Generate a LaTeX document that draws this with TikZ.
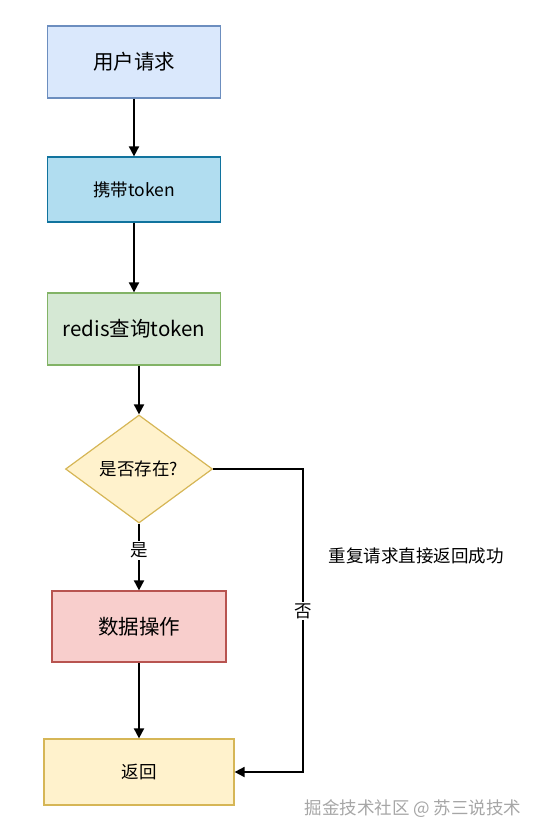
\documentclass[tikz,border=0pt]{standalone}
\usepackage{fontspec}
\setmainfont{Noto Sans CJK SC}
\usetikzlibrary{arrows.meta,shapes.geometric}
\definecolor{b1f}{HTML}{DAE8FC}\definecolor{b1s}{HTML}{6C8EBF}
\definecolor{b2f}{HTML}{B1DDF0}\definecolor{b2s}{HTML}{10739E}
\definecolor{b3f}{HTML}{D5E8D4}\definecolor{b3s}{HTML}{82B366}
\definecolor{yf}{HTML}{FFF2CC}\definecolor{ys}{HTML}{D6B656}
\definecolor{rf}{HTML}{F8CECC}\definecolor{rs}{HTML}{B85450}
\tikzset{
  box/.style={draw, line width=1.2pt, minimum width=#1, inner sep=0pt},
  big/.style={font=\fontsize{20.5}{23}\selectfont},
  small/.style={font=\fontsize{17.5}{20}\selectfont},
  flow/.style={draw, line width=1.8pt, -{Triangle[length=10pt,width=10pt]}},
  lbl/.style={fill=white, inner sep=1.5pt, small},
}
\begin{document}
\begin{tikzpicture}[x=1pt,y=-1pt]
\useasboundingbox (0,0) rectangle (534,836);
\node[box=173pt, minimum height=72pt, fill=b1f, draw=b1s, big] (b1) at (134,62) {用户请求};
\node[box=173pt, minimum height=65pt, fill=b2f, draw=b2s, small] (b2) at (134,189.5) {携带token};
\node[box=173pt, minimum height=72pt, fill=b3f, draw=b3s, big] (b3) at (134,329) {redis查询token};
\node[diamond, draw=ys, fill=yf, line width=1.2pt, minimum width=147pt, minimum height=108pt, inner sep=0pt, small] (d) at (139,469) {是否存在?};
\node[box=174pt, minimum height=71pt, fill=rf, draw=rs, big] (b5) at (139,626.5) {数据操作};
\node[box=190pt, minimum height=66pt, fill=yf, draw=ys, small] (b6) at (139,772) {返回};
\coordinate (c1) at (303,469);
\coordinate (c2) at (303,772);
\draw[flow] (b1) -- (b2);
\draw[flow] (b2) -- (b3);
\draw[flow] (b3.south -| d.north) -- (d.north);
\draw[flow] (d.south) -- node[lbl, pos=0.4] {是} (b5.north);
\draw[flow] (b5) -- (b6);
\draw[flow] (d.east) -- (c1) -- node[lbl, pos=0.47] {否} (c2) -- (b6.east);
\node[small] (note) at (416,556) {重复请求直接返回成功};
\node[small, text=black!35] (wm) at (413,809) {掘金技术社区 @ 苏三说技术};
\end{tikzpicture}
\end{document}
